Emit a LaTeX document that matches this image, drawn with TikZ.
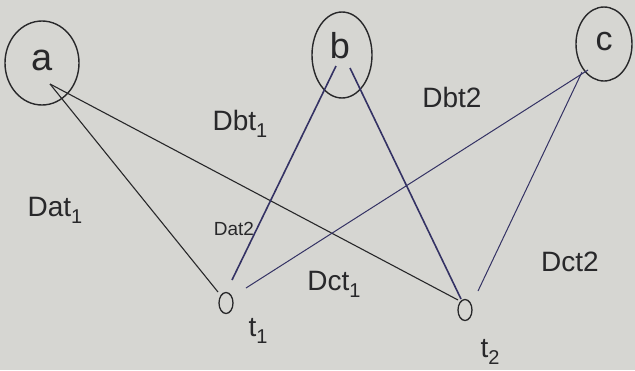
\documentclass[tikz,border=0pt]{standalone}
\usepackage{fontspec}
\setmainfont{Liberation Sans}
\usetikzlibrary{shapes.geometric}
\definecolor{paper}{RGB}{214,214,210}
\definecolor{ink}{RGB}{40,40,42}
\definecolor{blueink}{RGB}{52,50,100}
\newcommand{\sbs}[1]{\raisebox{-0.25em}{\fontsize{20}{22}\selectfont #1}}
\begin{document}
\begin{tikzpicture}[x=1pt,y=-1pt,
  vert/.style={draw=ink,line width=1.4pt,ellipse,inner sep=0pt},
  tnode/.style={draw=ink,line width=1.3pt,ellipse,minimum width=14pt,minimum height=21pt,inner sep=0pt},
  edge/.style={ink,line width=1.1pt},
  bedge/.style={blueink,line width=1.6pt},
  lbl/.style={text=ink,font=\fontsize{28}{32}\selectfont,inner sep=0pt},
  slbl/.style={text=ink,font=\fontsize{19}{22}\selectfont,inner sep=0pt}]
\fill[paper] (0,0) rectangle (635,370);
\useasboundingbox (0,0) rectangle (635,370);
\node[vert,minimum width=74pt,minimum height=84pt] (a) at (42,63) {};
\node[text=ink,font=\fontsize{38}{42}\selectfont] (al) at (42,60) {a};
\node[vert,minimum width=60pt,minimum height=86pt] (b) at (342,55) {};
\node[text=ink,font=\fontsize{36}{40}\selectfont] (bl) at (340,46) {b};
\node[vert,minimum width=56pt,minimum height=74pt] (c) at (604,44) {};
\node[text=ink,font=\fontsize{34}{38}\selectfont] (cl) at (604,42) {c};
\node[tnode] (t1) at (226,303) {};
\node[tnode] (t2) at (465,310) {};
\coordinate (aa) at (50,84);
\coordinate (ba) at (336,66);
\coordinate (bb) at (350,68);
\coordinate (ca) at (588,70);
\coordinate (cb) at (582,72);
\coordinate (t1a) at (218,292);
\coordinate (t1b) at (232,280);
\coordinate (t1c) at (246,288);
\coordinate (t2a) at (458,300);
\coordinate (t2b) at (461,299);
\coordinate (t2c) at (478,291);
\draw[edge] (aa) -- (t1a);
\draw[edge] (aa) -- (t2a);
\draw[bedge] (ba) -- (t1b);
\draw[bedge] (bb) -- (t2b);
\draw[blueink,line width=1pt] (ca) -- (t1c);
\draw[blueink,line width=1pt] (cb) -- (t2c);
\node[lbl] (l1) at (55,210) {Dat\sbs{1}};
\node[lbl] (l2) at (240,124) {Dbt\sbs{1}};
\node[lbl] (l3) at (452,97) {Dbt2};
\node[slbl] (l4) at (234,229) {Dat2};
\node[lbl] (l5) at (334,284) {Dct\sbs{1}};
\node[lbl] (l6) at (570,262) {Dct2};
\node[lbl] (l7) at (258,331) {t\sbs{1}};
\node[lbl] (l8) at (490,352) {t\sbs{2}};
\end{tikzpicture}
\end{document}
